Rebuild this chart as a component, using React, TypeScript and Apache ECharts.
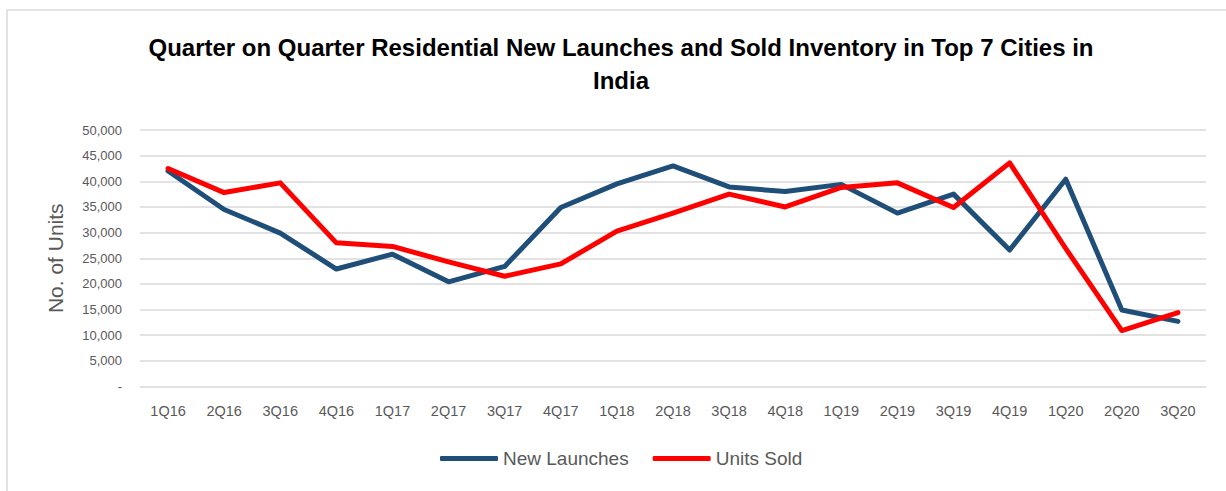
import React, { useEffect, useRef } from "react";
import * as echarts from "echarts";

const categories = ["1Q16","2Q16","3Q16","4Q16","1Q17","2Q17","3Q17","4Q17","1Q18","2Q18","3Q18","4Q18","1Q19","2Q19","3Q19","4Q19","1Q20","2Q20","3Q20"];
const newLaunches = [42000,34500,29900,22900,25800,20400,23400,34900,39500,43000,38900,38000,39400,33800,37500,26600,40400,14900,12700];
const unitsSold = [42500,37800,39700,28000,27300,24300,21500,23900,30300,33800,37500,35000,38800,39700,34900,43600,26900,10900,14400];

const titleLine1 = "Quarter on Quarter Residential New Launches and Sold Inventory in Top 7 Cities in";
const titleLine2 = "India";

export default function App() {
  const ref = useRef<HTMLDivElement>(null);
  useEffect(() => {
    document.body.style.margin = "0";
    const chart = echarts.init(ref.current!, undefined, { renderer: "svg" });
    const titleFont = "bold 24px 'Liberation Sans Narrow', 'Arial Narrow', 'Liberation Sans', Arial, sans-serif";
    const ff = "'Liberation Sans', Arial, sans-serif";
    chart.setOption({
      animation: false,
      backgroundColor: "#ffffff",
      graphic: [
        { type: "rect", shape: { x: 7, y: 10, width: 1240, height: 500 }, style: { fill: "none", stroke: "#d9d9d9", lineWidth: 1.5 }, silent: true },
        { type: "text", x: 621, y: 47, style: { text: titleLine1, font: titleFont, fill: "#000", textAlign: "center", textVerticalAlign: "middle" } },
        { type: "text", x: 621, y: 80, style: { text: titleLine2, font: titleFont, fill: "#000", textAlign: "center", textVerticalAlign: "middle" } },
      ],
      grid: { left: 140, right: 20, top: 130, bottom: 104.5, containLabel: false },
      legend: {
        left: 435,
        top: 444,
        itemWidth: 58,
        itemHeight: 5,
        itemGap: 24,
        icon: "roundRect",
        textStyle: { fontSize: 19, color: "#595959", fontFamily: ff },
        data: ["New Launches", "Units Sold"],
      },
      xAxis: {
        type: "category",
        data: categories,
        boundaryGap: true,
        axisLine: { show: false },
        axisTick: { show: false },
        axisLabel: { color: "#595959", fontSize: 14.5, margin: 17, fontFamily: ff },
      },
      yAxis: {
        type: "value",
        min: 0,
        max: 50000,
        interval: 5000,
        name: "No. of Units",
        nameLocation: "middle",
        nameGap: 74,
        nameTextStyle: { color: "#595959", fontSize: 21, fontFamily: ff },
        axisLine: { show: false },
        axisTick: { show: false },
        splitLine: { lineStyle: { color: "#d9d9d9", width: 1.5 } },
        axisLabel: {
          color: "#595959",
          fontSize: 13,
          margin: 18,
          fontFamily: ff,
          formatter: (v: number) => (v === 0 ? "-" : v.toLocaleString("en-US")),
        },
      },
      series: [
        {
          name: "New Launches",
          type: "line",
          data: newLaunches,
          symbol: "none",
          color: "#1F4E79",
          lineStyle: { width: 5, color: "#1F4E79", cap: "round", join: "round" },
        },
        {
          name: "Units Sold",
          type: "line",
          data: unitsSold,
          symbol: "none",
          color: "#FF0000",
          lineStyle: { width: 5, color: "#FF0000", cap: "round", join: "round" },
        },
      ],
    });
    return () => chart.dispose();
  }, []);
  return <div ref={ref} style={{ width: 1226, height: 491 }} />;
}
